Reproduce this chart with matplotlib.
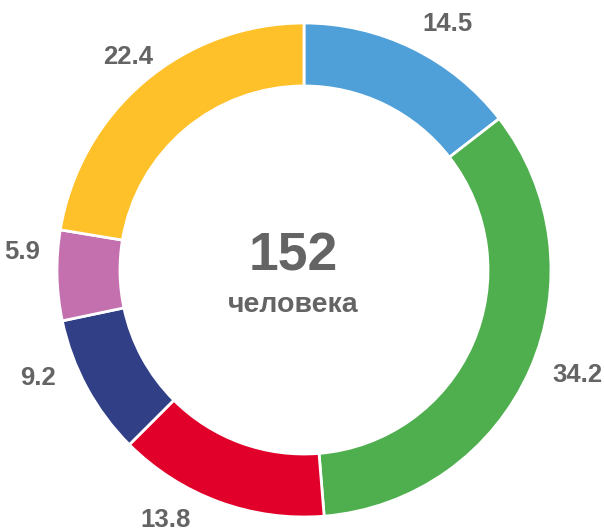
import numpy as np
import matplotlib.pyplot as plt

plt.rcParams['font.family'] = ['Liberation Sans', 'DejaVu Sans']

# доли (%) по часовой стрелке от верха
values = [14.5, 34.2, 13.8, 9.2, 5.9, 22.4]
labels = ['14.5', '34.2', '13.8', '9.2', '5.9', '22.4']
colors = ['#4F9FD8', '#4FAF4E', '#E0002A', '#303F86', '#C470AF', '#FFC12A']
total = '152'
caption = 'человека'

# сдвиг подписей относительно середины сектора (градусы) и их расстояние от центра
label_shift = [-4.2, 2.8, -8.9, -6.3, -5.0, -0.7]
label_dist = [1.154, 1.187, 1.158, 1.162, 1.144, 1.118]

fig = plt.figure(figsize=(6.04, 5.32), dpi=100)
# центр кольца ~ (304, 270) px, радиус ~247 px
cx, cy, r = 304, 532 - 270, 247
ax = fig.add_axes([(cx - r) / 604, (cy - r) / 532, 2 * r / 604, 2 * r / 532])

wedges, _ = ax.pie(values, colors=colors, startangle=90, counterclock=False,
                   radius=1, wedgeprops=dict(width=0.255, edgecolor='white', linewidth=2))
ax.set_xlim(-1, 1)
ax.set_ylim(-1, 1)
ax.set_aspect('equal')
ax.axis('off')

for w, lab, sh, d in zip(wedges, labels, label_shift, label_dist):
    ang = np.deg2rad((w.theta1 + w.theta2) / 2 + sh)
    ax.text(d * np.cos(ang), d * np.sin(ang), lab, ha='center', va='center',
            fontsize=18.5, fontweight='bold', color='#646464', clip_on=False)

# подпись в центре чуть левее центра кольца
ax.text(-0.045, 0.056, total, ha='center', va='center', fontsize=38.5, fontweight='bold', color='#646464')
ax.text(-0.045, -0.14, caption, ha='center', va='center', fontsize=20.5, fontweight='bold', color='#646464')

fig.savefig('out.png', dpi=100)
